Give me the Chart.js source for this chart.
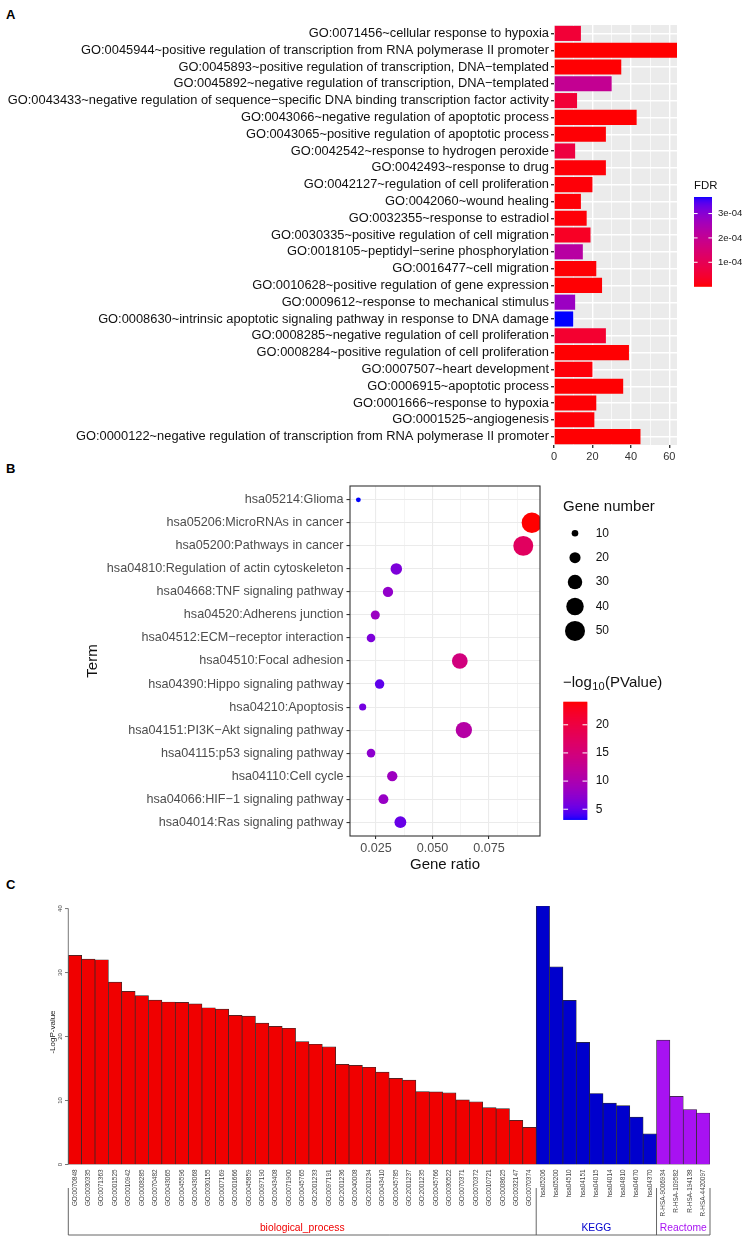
<!DOCTYPE html>
<html>
<head>
<meta charset="utf-8">
<script src="https://cdn.jsdelivr.net/npm/chart.js@4.4.1/dist/chart.umd.min.js"></script>
<style>
  html, body { margin: 0; padding: 0; background: #fff; }
  body { width: 746px; height: 1239px; position: relative; overflow: hidden; font-family: "Liberation Sans", Arial, sans-serif; }
  canvas { position: absolute; left: 0; }
  .tag { position: absolute; left: 6px; font-weight: bold; font-size: 13px; line-height: 13px; color: #000; }
</style>
</head>
<body>
<div class="tag" style="top:8px">A</div>
<div class="tag" style="top:462px">B</div>
<div class="tag" style="top:878px">C</div>
<canvas id="goChart" width="746" height="470" style="top:0"></canvas>
<canvas id="keggChart" width="746" height="410" style="top:470px"></canvas>
<canvas id="enrichChart" width="746" height="359" style="top:880px"></canvas>
<script>
// Panel A: GO terms (top to bottom), gene counts, FDR
const goTerms = [
  "GO:0071456~cellular response to hypoxia",
  "GO:0045944~positive regulation of transcription from RNA polymerase II promoter",
  "GO:0045893~positive regulation of transcription, DNA\u2212templated",
  "GO:0045892~negative regulation of transcription, DNA\u2212templated",
  "GO:0043433~negative regulation of sequence\u2212specific DNA binding transcription factor activity",
  "GO:0043066~negative regulation of apoptotic process",
  "GO:0043065~positive regulation of apoptotic process",
  "GO:0042542~response to hydrogen peroxide",
  "GO:0042493~response to drug",
  "GO:0042127~regulation of cell proliferation",
  "GO:0042060~wound healing",
  "GO:0032355~response to estradiol",
  "GO:0030335~positive regulation of cell migration",
  "GO:0018105~peptidyl\u2212serine phosphorylation",
  "GO:0016477~cell migration",
  "GO:0010628~positive regulation of gene expression",
  "GO:0009612~response to mechanical stimulus",
  "GO:0008630~intrinsic apoptotic signaling pathway in response to DNA damage",
  "GO:0008285~negative regulation of cell proliferation",
  "GO:0008284~positive regulation of cell proliferation",
  "GO:0007507~heart development",
  "GO:0006915~apoptotic process",
  "GO:0001666~response to hypoxia",
  "GO:0001525~angiogenesis",
  "GO:0000122~negative regulation of transcription from RNA polymerase II promoter"
];
const goCounts = [14, 64, 35, 30, 12, 43, 27, 11, 27, 20, 14, 17, 19, 15, 22, 25, 11, 10, 27, 39, 20, 36, 22, 21, 45];
const goFDR = [0.55e-4, 1e-7, 0.02e-4, 2.0e-4, 0.55e-4, 0.01e-4, 0.03e-4, 0.7e-4, 0.04e-4, 0.05e-4,
  0.04e-4, 0.05e-4, 0.3e-4, 2.25e-4, 0.03e-4, 0.02e-4, 2.75e-4, 3.68e-4, 0.45e-4, 0.01e-4,
  0.05e-4, 0.01e-4, 0.03e-4, 0.04e-4, 0.01e-4];
const fdrBreaks = [1e-4, 2e-4, 3e-4];
const fdrLabels = ["1e-04", "2e-04", "3e-04"];

// Panel B: KEGG dot plot
const keggTerms = [
  "hsa05214:Glioma",
  "hsa05206:MicroRNAs in cancer",
  "hsa05200:Pathways in cancer",
  "hsa04810:Regulation of actin cytoskeleton",
  "hsa04668:TNF signaling pathway",
  "hsa04520:Adherens junction",
  "hsa04512:ECM\u2212receptor interaction",
  "hsa04510:Focal adhesion",
  "hsa04390:Hippo signaling pathway",
  "hsa04210:Apoptosis",
  "hsa04151:PI3K\u2212Akt signaling pathway",
  "hsa04115:p53 signaling pathway",
  "hsa04110:Cell cycle",
  "hsa04066:HIF\u22121 signaling pathway",
  "hsa04014:Ras signaling pathway"
];
const keggRatio = [0.0172, 0.0940, 0.0902, 0.0340, 0.0303, 0.0247, 0.0228, 0.0621, 0.0266, 0.0191, 0.0639, 0.0228, 0.0322, 0.0283, 0.0358];
const keggCount = [7, 52, 50, 21, 18, 15, 14, 34, 16, 11, 36, 14, 18, 17, 22];
const keggLogP = [3.1, 24.1, 17.4, 6.3, 7.7, 8.4, 6.3, 14.7, 4.8, 5.8, 11.0, 7.3, 8.6, 8.1, 5.2];
const sizeBreaks = [10, 20, 30, 40, 50];
const logPBreaks = [5, 10, 15, 20];

// Panel C: -LogP-value per term, grouped by source
const bpIds = ["GO:0070848", "GO:0030335", "GO:0071363", "GO:0001525", "GO:0010942", "GO:0008285", "GO:0070482",
  "GO:0043065", "GO:0045596", "GO:0043068", "GO:0030155", "GO:0007169", "GO:0001666", "GO:0045859", "GO:0097190",
  "GO:0043408", "GO:0071900", "GO:0045765", "GO:2001233", "GO:0097191", "GO:2001236", "GO:0040008", "GO:2001234",
  "GO:0043410", "GO:0045785", "GO:2001237", "GO:2001235", "GO:0045766", "GO:0030522", "GO:0070371", "GO:0070372",
  "GO:0010721", "GO:0008625", "GO:0032147", "GO:0070374"];
const bpLogP = [32.7, 32.1, 32.0, 28.5, 27.05, 26.4, 25.7, 25.4, 25.35, 25.1, 24.5, 24.3, 23.3, 23.2, 22.1,
  21.6, 21.3, 19.2, 18.8, 18.4, 15.65, 15.5, 15.2, 14.45, 13.45, 13.2, 11.4, 11.35, 11.2, 10.1, 9.8,
  8.9, 8.75, 6.9, 5.8];
const keggIds = ["hsa05206", "hsa05200", "hsa04510", "hsa04151", "hsa04015", "hsa04014", "hsa04810", "hsa04670", "hsa04370"];
const keggIdLogP = [40.4, 30.9, 25.65, 19.1, 11.1, 9.6, 9.2, 7.4, 4.8];
const reactIds = ["R-HSA-9006934", "R-HSA-109582", "R-HSA-194138", "R-HSA-4420097"];
const reactLogP = [19.45, 10.65, 8.6, 8.05];
const groupNames = ["biological_process", "KEGG", "Reactome"];
const groupColors = ["#F00000", "#0000CD", "#A812F2"];
const cTicks = [0, 10, 20, 30, 40];

Chart.defaults.font.family = '"Liberation Sans", Arial, sans-serif';
const FONT = '"Liberation Sans", Arial, sans-serif';

// colour ramps interpolated in Lab, like ggplot's gradient scales
const lin = c => { c /= 255; return c <= 0.04045 ? c / 12.92 : Math.pow((c + 0.055) / 1.055, 2.4); };
const gam = c => { c = c <= 0.0031308 ? 12.92 * c : 1.055 * Math.pow(Math.max(c, 0), 1 / 2.4) - 0.055; return Math.round(Math.min(1, Math.max(0, c)) * 255); };
function toLab(rgb) {
  const [r, g, b] = rgb.map(lin);
  const f = t => t > 0.008856 ? Math.cbrt(t) : 7.787 * t + 16 / 116;
  const x = f((r * 0.4124 + g * 0.3576 + b * 0.1805) / 0.95047);
  const y = f(r * 0.2126 + g * 0.7152 + b * 0.0722);
  const z = f((r * 0.0193 + g * 0.1192 + b * 0.9505) / 1.08883);
  return [116 * y - 16, 500 * (x - y), 200 * (y - z)];
}
function fromLab([L, A, B]) {
  const fy = (L + 16) / 116, fx = fy + A / 500, fz = fy - B / 200;
  const inv = t => t * t * t > 0.008856 ? t * t * t : (t - 16 / 116) / 7.787;
  const x = inv(fx) * 0.95047, y = inv(fy), z = inv(fz) * 1.08883;
  const r = 3.2406 * x - 1.5372 * y - 0.4986 * z;
  const g = -0.9689 * x + 1.8758 * y + 0.0415 * z;
  const b = 0.0557 * x - 0.2040 * y + 1.0570 * z;
  return `rgb(${gam(r)},${gam(g)},${gam(b)})`;
}
const RED = toLab([255, 0, 0]), BLUE = toLab([0, 0, 255]);
const ramp = (lo, hi, t) => fromLab(lo.map((v, i) => v + (hi[i] - v) * t));

// ---------- Panel A ----------
const fdrMin = Math.min(...goFDR), fdrMax = Math.max(...goFDR);
const fdrT = v => (v - fdrMin) / (fdrMax - fdrMin);

const greyPanel = {
  id: "greyPanel",
  beforeDraw(chart) {
    const { ctx, chartArea: a } = chart;
    ctx.save();
    ctx.fillStyle = "#EBEBEB";
    ctx.fillRect(a.left, a.top, a.right - a.left, a.bottom - a.top);
    ctx.restore();
  }
};

const fdrLegend = {
  id: "fdrLegend",
  afterDraw(chart) {
    const ctx = chart.ctx;
    const x = 694, w = 18, top = 197, bot = 286.6;
    ctx.save();
    ctx.fillStyle = "#111";
    ctx.font = "11.4px " + FONT;
    ctx.textBaseline = "middle";
    ctx.fillText("FDR", x, 186);
    for (let y = top; y < bot; y += 1) {
      ctx.fillStyle = ramp(RED, BLUE, (bot - y - 0.5) / (bot - top));
      ctx.fillRect(x, y, w, Math.min(1.5, bot - y));
    }
    ctx.strokeStyle = "#fff";
    ctx.lineWidth = 1;
    ctx.font = "9.5px " + FONT;
    fdrBreaks.forEach((v, i) => {
      const y = bot - fdrT(v) * (bot - top);
      ctx.beginPath();
      ctx.moveTo(x, y); ctx.lineTo(x + 3.6, y);
      ctx.moveTo(x + w - 3.6, y); ctx.lineTo(x + w, y);
      ctx.stroke();
      ctx.fillStyle = "#1a1a1a";
      ctx.fillText(fdrLabels[i], 718, y);
    });
    ctx.restore();
  }
};

new Chart(document.getElementById("goChart"), {
  type: "bar",
  data: {
    labels: goTerms,
    datasets: [{
      data: goCounts,
      backgroundColor: goFDR.map(v => ramp(RED, BLUE, fdrT(v))),
      barPercentage: 0.9,
      categoryPercentage: 1
    }]
  },
  options: {
    indexAxis: "y",
    responsive: false,
    animation: false,
    events: [],
    layout: { padding: { left: 0, right: 69, top: 25, bottom: 0 } },
    plugins: { legend: { display: false }, tooltip: { enabled: false } },
    scales: {
      x: {
        min: 0, max: 64,
        afterBuildTicks: s => { s.ticks = [0, 10, 20, 30, 40, 50, 60].map(v => ({ value: v })); },
        afterFit: s => { s.height = 25; },
        border: { display: false },
        grid: {
          color: "#fff",
          lineWidth: c => (c.tick && c.tick.value % 20 === 0 ? 1.4 : 0.7),
          tickColor: c => (c.tick && c.tick.value % 20 === 0 ? "#333" : "rgba(0,0,0,0)"),
          tickLength: 3
        },
        ticks: { callback: v => (v % 20 === 0 ? v : ""), font: { size: 11 }, color: "#333", padding: 2, maxRotation: 0 }
      },
      y: {
        afterFit: s => { s.width = 554; },
        border: { display: false },
        grid: { offset: false, color: "#fff", lineWidth: 1.4, tickColor: "#333", tickLength: 3 },
        ticks: { autoSkip: false, font: { size: 12.85 }, color: "#111", padding: 2 }
      }
    }
  },
  plugins: [greyPanel, fdrLegend]
});

// ---------- Panel B ----------
const pMin = Math.min(...keggLogP), pMax = Math.max(...keggLogP);
const radius = n => 1.71 * Math.sqrt(n) - 2.1;
const isMajorRatio = v => Math.abs(v / 0.025 - Math.round(v / 0.025)) < 1e-6;

const boxBorder = {
  id: "boxBorder",
  afterDatasetsDraw(chart) {
    const { ctx, chartArea: a } = chart;
    ctx.save();
    ctx.strokeStyle = "#333";
    ctx.lineWidth = 1.1;
    ctx.strokeRect(a.left, a.top, a.right - a.left, a.bottom - a.top);
    ctx.restore();
  }
};

const keggLegend = {
  id: "keggLegend",
  afterDraw(chart) {
    const ctx = chart.ctx;
    ctx.save();
    ctx.textBaseline = "middle";
    ctx.fillStyle = "#111";
    ctx.font = "15px " + FONT;
    ctx.fillText("Gene number", 563, 36.7);
    ctx.font = "12px " + FONT;
    sizeBreaks.forEach((n, i) => {
      const y = 63.3 + i * 24.4;
      ctx.fillStyle = "#000";
      ctx.beginPath();
      ctx.arc(575, y, radius(n), 0, Math.PI * 2);
      ctx.fill();
      ctx.fillStyle = "#111";
      ctx.fillText(String(n), 595.7, y);
    });
    // colourbar title: -log10(PValue)
    let tx = 563;
    const ty = 213;
    ctx.font = "15px " + FONT;
    ctx.fillText("\u2212log", tx, ty);
    tx += ctx.measureText("\u2212log").width + 0.5;
    ctx.font = "11px " + FONT;
    ctx.fillText("10", tx, ty + 4);
    tx += ctx.measureText("10").width + 0.5;
    ctx.font = "15px " + FONT;
    ctx.fillText("(PValue)", tx, ty);
    // colourbar
    const x = 563.3, w = 24, top = 231.7, unit = 5.63;
    const bot = top + (pMax - pMin) * unit;
    for (let y = top; y < bot; y += 1) {
      ctx.fillStyle = ramp(BLUE, RED, (bot - y - 0.5) / (bot - top));
      ctx.fillRect(x, y, w, Math.min(1.5, bot - y));
    }
    ctx.strokeStyle = "#fff";
    ctx.lineWidth = 1;
    ctx.font = "12px " + FONT;
    logPBreaks.forEach(v => {
      const y = bot - (v - pMin) * unit;
      ctx.beginPath();
      ctx.moveTo(x, y); ctx.lineTo(x + 4.8, y);
      ctx.moveTo(x + w - 4.8, y); ctx.lineTo(x + w, y);
      ctx.stroke();
      ctx.fillStyle = "#111";
      ctx.fillText(String(v), 595.7, y);
    });
    ctx.restore();
  }
};

new Chart(document.getElementById("keggChart"), {
  type: "bubble",
  data: {
    datasets: [{
      data: keggRatio.map((x, i) => ({ x: x, y: i + 1, r: radius(keggCount[i]) })),
      backgroundColor: keggLogP.map(p => ramp(BLUE, RED, (p - pMin) / (pMax - pMin))),
      borderWidth: 0,
      clip: 0
    }]
  },
  options: {
    responsive: false,
    animation: false,
    events: [],
    layout: { padding: { left: 0, right: 206, top: 16, bottom: 0 } },
    plugins: { legend: { display: false }, tooltip: { enabled: false } },
    scales: {
      x: {
        type: "linear", min: 0.0135, max: 0.0976,
        afterBuildTicks: s => { s.ticks = [0.025, 0.0375, 0.05, 0.0625, 0.075, 0.0875].map(v => ({ value: v })); },
        afterFit: s => { s.height = 44; },
        border: { display: false },
        grid: {
          color: "#EBEBEB",
          lineWidth: c => (c.tick && isMajorRatio(c.tick.value) ? 1.1 : 0.55),
          tickColor: c => (c.tick && isMajorRatio(c.tick.value) ? "#333" : "rgba(0,0,0,0)"),
          tickLength: 3
        },
        ticks: { callback: v => (isMajorRatio(v) ? v.toFixed(3) : ""), font: { size: 12.6 }, color: "#4D4D4D", padding: 2, maxRotation: 0, autoSkip: false },
        title: { display: true, text: "Gene ratio", font: { size: 15 }, color: "#111", padding: { top: 0, bottom: 6 } }
      },
      y: {
        type: "linear", reverse: true, min: 0.4, max: keggTerms.length + 0.6,
        afterBuildTicks: s => { s.ticks = keggTerms.map((_, i) => ({ value: i + 1 })); },
        afterFit: s => { s.width = 350; },
        border: { display: false },
        grid: { color: "#EBEBEB", lineWidth: 1.1, tickColor: "#333", tickLength: 3.5 },
        ticks: { callback: v => keggTerms[Math.round(v) - 1], font: { size: 12.6 }, color: "#4D4D4D", padding: 3, autoSkip: false },
        title: { display: true, text: "Term", font: { size: 15 }, color: "#111", padding: { top: 84, bottom: 0 } }
      }
    }
  },
  plugins: [boxBorder, keggLegend]
});

// ---------- Panel C ----------
const cIds = bpIds.concat(keggIds, reactIds);
const cVals = bpLogP.concat(keggIdLogP, reactLogP);
const groupSizes = [bpIds.length, keggIds.length, reactIds.length];
const cColors = [];
groupSizes.forEach((n, g) => { for (let i = 0; i < n; i++) cColors.push(groupColors[g]); });

const baseAxis = {
  id: "baseAxis",
  afterDraw(chart) {
    const ctx = chart.ctx;
    const ys = chart.scales.y, xs = chart.scales.x;
    const ax = chart.chartArea.left;
    ctx.save();
    ctx.strokeStyle = "#555";
    ctx.lineWidth = 0.8;
    ctx.beginPath();
    ctx.moveTo(ax, ys.getPixelForValue(cTicks[0]));
    ctx.lineTo(ax, ys.getPixelForValue(cTicks[cTicks.length - 1]));
    cTicks.forEach(v => { const y = ys.getPixelForValue(v); ctx.moveTo(ax - 3.3, y); ctx.lineTo(ax, y); });
    ctx.stroke();
    ctx.fillStyle = "#444";
    ctx.textAlign = "center";
    ctx.textBaseline = "middle";
    cTicks.forEach(v => {
      ctx.save();
      ctx.translate(60.5, ys.getPixelForValue(v));
      ctx.rotate(-Math.PI / 2);
      ctx.font = "6px " + FONT;
      ctx.fillText(String(v), 0, 0);
      ctx.restore();
    });
    ctx.save();
    ctx.translate(52.5, 152);
    ctx.rotate(-Math.PI / 2);
    ctx.font = "8px " + FONT;
    ctx.fillStyle = "#222";
    ctx.fillText("-LogP-value", 0, 0);
    ctx.restore();

    // group brackets under the labels
    const band = (xs.right - xs.left) / cIds.length;
    let start = 0;
    const yTop = 308, yBot = 355;
    ctx.strokeStyle = "#555";
    ctx.lineWidth = 0.9;
    ctx.beginPath();
    ctx.moveTo(xs.left, yBot); ctx.lineTo(xs.right, yBot);
    ctx.moveTo(xs.left, yTop); ctx.lineTo(xs.left, yBot);
    ctx.font = "10.3px " + FONT;
    groupSizes.forEach((n, g) => {
      const x0 = xs.left + start * band, x1 = xs.left + (start + n) * band;
      ctx.moveTo(x1, yTop); ctx.lineTo(x1, yBot);
      ctx.fillStyle = groupColors[g];
      ctx.fillText(groupNames[g], (x0 + x1) / 2, 348);
      start += n;
    });
    ctx.stroke();
    ctx.restore();
  }
};

new Chart(document.getElementById("enrichChart"), {
  type: "bar",
  data: {
    labels: cIds,
    datasets: [{
      data: cVals,
      backgroundColor: cColors,
      borderColor: "#2a2a2a",
      borderWidth: 0.7,
      borderSkipped: false,
      barPercentage: 1,
      categoryPercentage: 1
    }]
  },
  options: {
    responsive: false,
    animation: false,
    events: [],
    layout: { padding: { left: 68.3, right: 36, top: 26, bottom: 0 } },
    plugins: { legend: { display: false }, tooltip: { enabled: false } },
    scales: {
      x: {
        afterFit: s => { s.height = 74.5; },
        grid: { display: false, drawTicks: false },
        border: { display: false },
        ticks: { autoSkip: false, minRotation: 90, maxRotation: 90, font: { size: 6.4 }, color: "#444", padding: 5 }
      },
      y: { display: false, min: 0, max: 40.4 }
    }
  },
  plugins: [baseAxis]
});
</script>
</body>
</html>
